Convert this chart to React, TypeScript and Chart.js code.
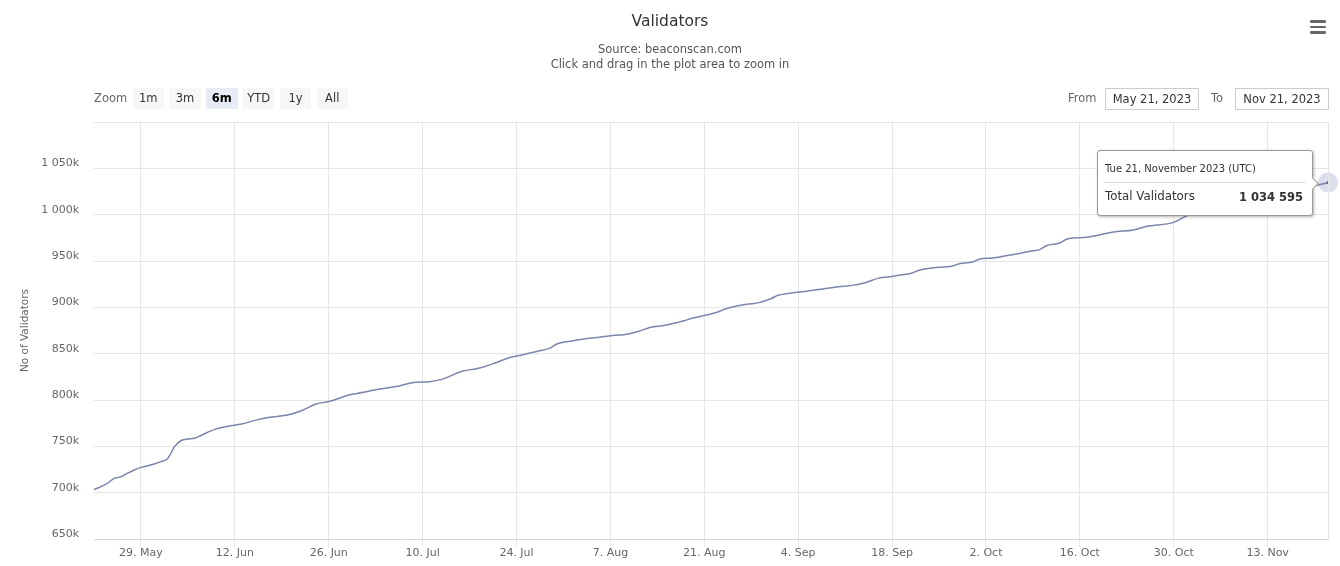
import React, { useEffect, useRef } from "react";
import { Chart, registerables } from "chart.js";

Chart.register(...registerables);

const FONT = '"DejaVu Sans", Verdana, sans-serif';

const TITLE = "Validators";
const SUBTITLE_LINES = ["Source: beaconscan.com", "Click and drag in the plot area to zoom in"];
const SERIES_LABEL = "Total Validators";
const Y_AXIS_TITLE = "No of Validators";

const DATES = [
  "2023-05-21", "2023-05-23", "2023-05-24", "2023-05-25", "2023-05-26", "2023-05-27", "2023-05-28",
  "2023-05-29", "2023-05-30", "2023-05-31", "2023-06-01", "2023-06-02", "2023-06-03", "2023-06-04",
  "2023-06-05", "2023-06-06", "2023-06-08", "2023-06-10", "2023-06-12", "2023-06-14", "2023-06-16",
  "2023-06-19", "2023-06-21", "2023-06-23", "2023-06-25", "2023-06-27", "2023-06-28", "2023-06-30",
  "2023-07-02", "2023-07-05", "2023-07-08", "2023-07-10", "2023-07-12", "2023-07-13", "2023-07-15",
  "2023-07-17", "2023-07-18", "2023-07-20", "2023-07-22", "2023-07-24", "2023-07-26", "2023-07-28",
  "2023-07-29", "2023-07-31", "2023-08-02", "2023-08-04", "2023-08-06", "2023-08-08", "2023-08-10",
  "2023-08-12", "2023-08-14", "2023-08-16", "2023-08-17", "2023-08-18", "2023-08-20", "2023-08-22",
  "2023-08-23", "2023-08-25", "2023-08-27", "2023-08-28", "2023-08-30", "2023-08-31", "2023-09-02",
  "2023-09-04", "2023-09-06", "2023-09-09", "2023-09-11", "2023-09-13", "2023-09-15", "2023-09-17",
  "2023-09-18", "2023-09-20", "2023-09-21", "2023-09-23", "2023-09-26", "2023-09-27", "2023-09-29",
  "2023-09-30", "2023-10-02", "2023-10-04", "2023-10-06", "2023-10-08", "2023-10-09", "2023-10-10",
  "2023-10-12", "2023-10-13", "2023-10-14", "2023-10-16", "2023-10-18", "2023-10-20", "2023-10-23",
  "2023-10-25", "2023-10-29", "2023-10-31", "2023-11-03", "2023-11-06", "2023-11-09", "2023-11-12",
  "2023-11-15", "2023-11-18", "2023-11-21",
];

const VALUES = [
  703200, 710000, 715500, 717000, 721000, 724500, 727300,
  729000, 731000, 733500, 737000, 749500, 756300, 758000,
  758800, 762000, 768300, 771600, 774000, 778000, 781000,
  784000, 788600, 795500, 798300, 803000, 805500, 808000,
  811000, 814500, 819200, 819800, 822500, 825500, 831300,
  833700, 835500, 840500, 845800, 848800, 852400, 856000,
  860500, 863400, 865800, 867500, 869300, 870500, 873600,
  878500, 880500, 883700, 885500, 888000, 891200, 894900,
  898000, 901700, 903900, 904800, 909600, 913000, 915500,
  917200, 919200, 922300, 923700, 926600, 931500, 933400,
  934500, 937100, 940000, 942500, 944600, 947000, 948900,
  952000, 953300, 955700, 958200, 961100, 962300, 966500,
  969500, 973500, 974800, 975500, 978400, 981300, 983500,
  987400, 991700, 999000, 1004000, 1008500, 1013500, 1018500,
  1023500, 1029000, 1034595,
];

const X_TICK_DATES = [
  "2023-05-29", "2023-06-12", "2023-06-26", "2023-07-10", "2023-07-24", "2023-08-07", "2023-08-21",
  "2023-09-04", "2023-09-18", "2023-10-02", "2023-10-16", "2023-10-30", "2023-11-13",
];
const X_TICK_LABELS = [
  "29. May", "12. Jun", "26. Jun", "10. Jul", "24. Jul", "7. Aug", "21. Aug",
  "4. Sep", "18. Sep", "2. Oct", "16. Oct", "30. Oct", "13. Nov",
];

const Y_MIN = 650000;
const Y_MAX = 1100000;
const Y_STEP = 50000;

const ZOOM_BUTTONS = ["1m", "3m", "6m", "YTD", "1y", "All"];
const SELECTED_BUTTON = "6m";
const FROM_LABEL = "May 21, 2023";
const TO_LABEL = "Nov 21, 2023";

const LINE_COLOR = "#7c85ab";
const GRID_COLOR = "#e6e6e6";

const DAY_MS = 86400000;
const START_MS = Date.UTC(2023, 4, 21);
// data points are plotted at the end of their UTC day
const DATA_DAY_SHIFT = 1;

function dayIndex(s: string): number {
  const [y, m, d] = s.split("-").map(Number);
  return (Date.UTC(y, m - 1, d) - START_MS) / DAY_MS;
}

function fmtSpace(n: number): string {
  return String(Math.round(n)).replace(/\B(?=(\d{3})+(?!\d))/g, " ");
}

const WEEKDAYS = ["Sun", "Mon", "Tue", "Wed", "Thu", "Fri", "Sat"];
const MONTHS = [
  "January", "February", "March", "April", "May", "June", "July",
  "August", "September", "October", "November", "December",
];

function fmtTooltipDate(s: string): string {
  const [y, m, d] = s.split("-").map(Number);
  const dt = new Date(Date.UTC(y, m - 1, d));
  return `${WEEKDAYS[dt.getUTCDay()]} ${d}, ${MONTHS[m - 1]} ${y} (UTC)`;
}

const haloPlugin = {
  id: "halo",
  beforeDatasetsDraw(chart: any) {
    const ctx = chart.ctx;
    chart.getActiveElements().forEach((a: any) => {
      const el = chart.getDatasetMeta(a.datasetIndex).data[a.index];
      ctx.save();
      ctx.beginPath();
      ctx.arc(el.x, el.y, 10, 0, Math.PI * 2);
      ctx.fillStyle = "rgba(124,140,190,0.28)";
      ctx.fill();
      ctx.restore();
    });
  },
};

const rightBorderPlugin = {
  id: "rightBorder",
  afterDraw(chart: any) {
    const { ctx, chartArea } = chart;
    ctx.save();
    ctx.strokeStyle = GRID_COLOR;
    ctx.lineWidth = 1;
    ctx.beginPath();
    ctx.moveTo(Math.round(chartArea.right) + 0.5, chartArea.top);
    ctx.lineTo(Math.round(chartArea.right) + 0.5, chartArea.bottom);
    ctx.stroke();
    ctx.restore();
  },
};

function TextAt(props: {
  x?: number;
  cy: number;
  size: number;
  color: string;
  text: string;
  center?: boolean;
  bold?: boolean;
}) {
  const lh = Math.round(props.size * 1.3);
  const style: React.CSSProperties = {
    position: "absolute",
    top: props.cy - lh / 2,
    height: lh,
    lineHeight: `${lh}px`,
    fontSize: props.size,
    color: props.color,
    fontFamily: FONT,
    whiteSpace: "nowrap",
    fontWeight: props.bold ? "bold" : "normal",
  };
  if (props.center) {
    style.left = 0;
    style.width = 1340;
    style.textAlign = "center";
  } else {
    style.left = props.x;
  }
  return <div style={style}>{props.text}</div>;
}

export default function App() {
  const canvasRef = useRef<HTMLCanvasElement>(null);
  const tipRef = useRef<HTMLDivElement>(null);

  useEffect(() => {
    const canvas = canvasRef.current!;
    const tickX = X_TICK_DATES.map((d) => dayIndex(d));

    const renderTip = (context: any) => {
      const { tooltip } = context;
      const el = tipRef.current;
      if (!el) return;
      if (tooltip.opacity === 0 || !tooltip.dataPoints || !tooltip.dataPoints.length) {
        el.style.display = "none";
        return;
      }
      const dp = tooltip.dataPoints[0];
      const w = 216;
      const h = 66;
      el.style.display = "block";
      el.style.left = `${tooltip.caretX - 15 - w}px`;
      el.style.top = `${tooltip.caretY - h / 2}px`;
      const title = tooltip.title && tooltip.title.length ? tooltip.title[0] : "";
      (el.querySelector(".tt-title") as HTMLElement).textContent = title;
      (el.querySelector(".tt-name") as HTMLElement).textContent = dp.dataset.label;
      (el.querySelector(".tt-value") as HTMLElement).textContent = fmtSpace(dp.parsed.y);
    };

    const chart = new Chart(canvas, {
      type: "line",
      data: {
        datasets: [
          {
            label: SERIES_LABEL,
            data: DATES.map((d, i) => ({ x: dayIndex(d) + DATA_DAY_SHIFT, y: VALUES[i] })),
            borderColor: LINE_COLOR,
            borderWidth: 1.5,
            pointRadius: 0,
            pointHoverRadius: 1.5,
            pointHoverBorderWidth: 0,
            pointHoverBackgroundColor: "#5a6288",
            cubicInterpolationMode: "monotone",
            fill: false,
          },
        ],
      },
      options: {
        responsive: false,
        animation: false,
        events: [],
        layout: { padding: { left: 0, top: 122, right: 12, bottom: 0 } },
        plugins: {
          legend: { display: false },
          title: { display: false },
          tooltip: {
            enabled: false,
            mode: "nearest",
            intersect: false,
            external: renderTip,
            callbacks: {
              title: (items: any[]) => (items.length ? fmtTooltipDate(DATES[items[0].dataIndex]) : ""),
            },
          },
        },
        scales: {
          x: {
            type: "linear",
            min: DATA_DAY_SHIFT,
            max: dayIndex(DATES[DATES.length - 1]) + DATA_DAY_SHIFT,
            afterFit: (s: any) => {
              s.height = 27;
            },
            afterBuildTicks: (s: any) => {
              s.ticks = tickX.map((v) => ({ value: v }));
            },
            ticks: {
              autoSkip: false,
              maxRotation: 0,
              minRotation: 0,
              padding: 0,
              color: "#666666",
              font: { family: FONT, size: 11 },
              callback: (_v: any, i: number) => X_TICK_LABELS[i],
            },
            grid: { color: GRID_COLOR, tickLength: 8, drawTicks: true },
            border: { display: true, color: "#d3d8e3" },
          },
          y: {
            type: "linear",
            min: Y_MIN,
            max: Y_MAX,
            afterFit: (s: any) => {
              s.width = 94;
            },
            ticks: {
              stepSize: Y_STEP,
              padding: 15,
              labelOffset: -5,
              color: "#666666",
              font: { family: FONT, size: 11 },
              callback: (v: any) => (Number(v) === Y_MAX ? "" : fmtSpace(Number(v) / 1000) + "k"),
            },
            grid: { color: GRID_COLOR, drawTicks: false },
            border: { display: false },
            title: {
              display: true,
              text: Y_AXIS_TITLE,
              color: "#666666",
              font: { family: FONT, size: 10.5 },
              padding: { top: 19, bottom: 0 },
            },
          },
        },
      },
      plugins: [haloPlugin, rightBorderPlugin],
    } as any);

    const idx = VALUES.length - 1;
    const pt = chart.getDatasetMeta(0).data[idx] as any;
    chart.setActiveElements([{ datasetIndex: 0, index: idx }]);
    chart.tooltip!.setActiveElements([{ datasetIndex: 0, index: idx }], { x: pt.x, y: pt.y });
    chart.update();

    return () => {
      chart.destroy();
    };
  }, []);

  const btnLeft0 = 132.5;
  const btnStep = 36.8;

  return (
    <div
      style={{
        position: "absolute",
        left: 0,
        top: 0,
        width: 1340,
        height: 566,
        background: "#ffffff",
        overflow: "hidden",
        fontFamily: FONT,
      }}
    >
      <canvas ref={canvasRef} width={1340} height={566} style={{ display: "block", position: "absolute", left: 0, top: 0 }} />

      <TextAt center cy={21} size={15.5} color="#333333" text={TITLE} />
      {SUBTITLE_LINES.map((t, i) => (
        <TextAt key={t} center cy={49 + i * 15} size={11.5} color="#555555" text={t} />
      ))}

      {/* hamburger menu */}
      {[20, 25.5, 31].map((t) => (
        <div
          key={t}
          style={{
            position: "absolute",
            left: 1310,
            top: t,
            width: 16,
            height: 2.6,
            borderRadius: 1.3,
            background: "#666666",
          }}
        />
      ))}

      {/* range selector */}
      <TextAt x={94} cy={98.5} size={11.5} color="#666666" text="Zoom" />
      {ZOOM_BUTTONS.map((b, i) => {
        const sel = b === SELECTED_BUTTON;
        return (
          <div
            key={b}
            style={{
              position: "absolute",
              left: btnLeft0 + i * btnStep,
              top: 88,
              width: 31.5,
              height: 21,
              background: sel ? "#e6ebf5" : "#f7f7f7",
              color: sel ? "#000000" : "#333333",
              fontWeight: sel ? "bold" : "normal",
              fontSize: 11.5,
              lineHeight: "21px",
              textAlign: "center",
              fontFamily: FONT,
            }}
          >
            {b}
          </div>
        );
      })}

      <TextAt x={1068} cy={98} size={11.5} color="#666666" text="From" />
      <div
        style={{
          position: "absolute",
          left: 1105,
          top: 88,
          width: 94,
          height: 22,
          boxSizing: "border-box",
          border: "1px solid #cccccc",
          fontSize: 11.5,
          lineHeight: "20px",
          textAlign: "center",
          color: "#333333",
          fontFamily: FONT,
        }}
      >
        {FROM_LABEL}
      </div>
      <TextAt x={1211} cy={98} size={11.5} color="#666666" text="To" />
      <div
        style={{
          position: "absolute",
          left: 1235,
          top: 88,
          width: 94,
          height: 22,
          boxSizing: "border-box",
          border: "1px solid #cccccc",
          fontSize: 11.5,
          lineHeight: "20px",
          textAlign: "center",
          color: "#333333",
          fontFamily: FONT,
        }}
      >
        {TO_LABEL}
      </div>

      {/* tooltip (filled by Chart.js external handler) */}
      <div
        ref={tipRef}
        style={{
          position: "absolute",
          display: "none",
          width: 216,
          height: 66,
          boxSizing: "border-box",
          background: "#ffffff",
          border: "1px solid #999999",
          borderRadius: 3,
          boxShadow: "1px 1px 3px rgba(0,0,0,0.3)",
          fontFamily: FONT,
          color: "#333333",
        }}
      >
        <div
          className="tt-title"
          style={{ position: "absolute", left: 7, top: 11, fontSize: 10, lineHeight: "13px", whiteSpace: "nowrap" }}
        />
        <div
          style={{ position: "absolute", left: 6, right: 6, top: 31, height: 0, borderTop: "1px solid #dddddd" }}
        />
        <div
          className="tt-name"
          style={{ position: "absolute", left: 7, top: 38, fontSize: 11.8, lineHeight: "15px", whiteSpace: "nowrap" }}
        />
        <div
          className="tt-value"
          style={{
            position: "absolute",
            right: 9,
            top: 39,
            fontSize: 11.5,
            lineHeight: "15px",
            fontWeight: "bold",
            whiteSpace: "nowrap",
          }}
        />
        <div
          style={{
            position: "absolute",
            right: -5,
            top: 28,
            width: 8,
            height: 8,
            background: "#ffffff",
            borderTop: "1px solid #999999",
            borderRight: "1px solid #999999",
            transform: "rotate(45deg)",
          }}
        />
      </div>
    </div>
  );
}
